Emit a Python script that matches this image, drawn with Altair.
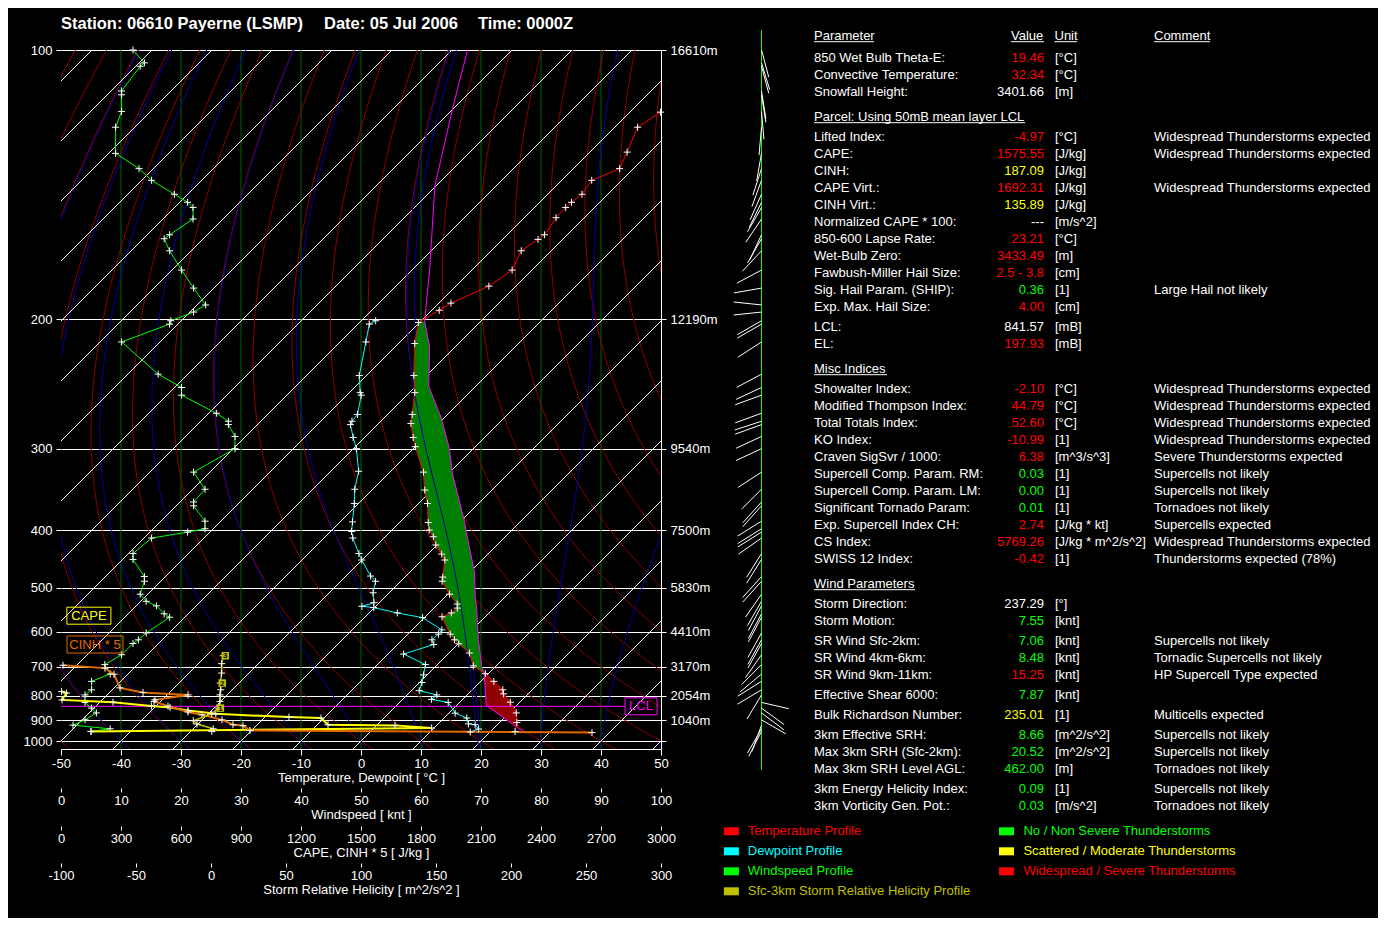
import numpy as np
import pandas as pd
import altair as alt

alt.data_transformers.disable_max_rows()

# ------------------------------------------------------------------
# Sounding values (pressure in hPa, temperature in °C)
# ------------------------------------------------------------------
TEMP_P = [953, 911, 869, 825, 793, 778, 748, 722, 697, 658, 632, 621, 606, 563, 554, 543, 534, 513, 487, 479,
          448, 438, 423, 410, 400, 389, 363, 346, 325, 298, 289, 276, 268, 250, 237, 215, 202, 195, 191, 182,
          174, 165, 160, 158, 151, 147, 145, 142, 137, 133, 127.6, 120, 115.7]
TEMP_T = [24.1, 22.9, 21.2, 18.4, 15.9, 15.1, 12.2, 9.5, 6.2, 3.4, 0.1, -1.3, -2.95, -7.2, -6.3, -6.1, -6.8, -9.7, -13.1, -13.7,
          -16.2, -17.7, -20.2, -22.0, -23.8, -25.2, -28.5, -31.2, -34.4, -40.0, -41.9, -44.6, -45.9, -49.1, -52.1, -57.3, -60.2, -58.75, -58.0, -54.5,
          -53.3, -55.0, -54.1, -53.8, -54.7, -54.8, -54.7, -54.3, -55.0, -52.3, -53.8, -56.2, -54.9]

DEW_P = [955, 941, 921, 917, 891, 870, 826, 814, 797, 781, 752, 726, 693, 661, 634, 621, 606, 595, 565, 554,
         542, 539, 531, 510, 487, 477, 448, 437, 412, 402, 388, 363, 345, 324, 300, 289, 277, 274, 268, 252,
         250, 237, 214, 203, 201]
DEW_T = [16.7, 17.6, 16.3, 15.05, 13.8, 11.05, 8.1, 4.8, 4.95, 1.3, 0.4, -0.6, -2.0, -7.4, -3.95, -5.05, -4.9, -5.05, -10.3, -15.3,
         -20.1, -22.3, -20.9, -22.7, -24.2, -25.9, -30.05, -31.6, -35.2, -36.5, -37.95, -40.7, -43.0, -45.35, -49.5, -51.9, -54.5, -54.8, -55.0, -57.6,
         -58.2, -61.2, -65.7, -68.1, -67.6]

PARCEL_P = [953, 935, 838, 720, 699, 621, 539, 518, 471, 431, 383, 326, 300, 271, 245, 217, 201.5, 172, 139, 115, 107, 100]
PARCEL_T = [25.5, 23.9, 14.95, 9.2, 7.7, 2.7, -3.2, -5.05, -9.1, -13.7, -20.0, -29.45, -34.0, -40.5, -47.85, -54.3, -59.3, -67.7, -80.2, -90.0, -93.8, -97.4]

LFC_P = 720
EL_P = 200
CIN_BASE_P = 935
LCL_P = 841.57
THETA_W_850 = 19.46

WIND_P = [100, 103, 103.8, 110, 111, 115.5, 120, 128, 133, 137, 142, 145, 147, 151.5, 158, 159.7, 165, 174, 183, 192,
          196, 201, 203, 214, 236, 246, 252, 267, 274, 277, 288, 300, 325, 345, 361, 366, 387, 398, 403, 412,
          437, 447, 478, 487, 513, 528, 538, 556, 564, 603, 621, 631, 663, 693, 723, 748, 778, 797, 826, 849,
          869, 899, 923, 940, 952]
WIND_SPD = [12.0, 13.9, 13.2, 10.1, 10.1, 10.1, 9.1, 9.1, 13.0, 15.1, 18.9, 21.1, 22.0, 22.0, 18.1, 17.2, 18.1, 20.1, 22.1, 24.1,
            22.1, 18.3, 18.1, 10.1, 16.2, 20.1, 20.1, 25.9, 27.9, 27.9, 29.0, 29.0, 22.1, 24.0, 22.1, 22.1, 24.0, 24.0, 21.1, 15.1,
            12.0, 12.0, 13.9, 13.9, 13.2, 14.2, 15.9, 17.2, 18.1, 14.2, 12.9, 12.0, 10.1, 7.3, 8.2, 5.1, 5.1, 4.0, 4.0, 5.1,
            5.9, 4.0, 2.0, 8.2, 5.0]
WIND_DIR = [165, 163, 165, 171, 171, 175, 185, 190, 198, 200, 204, 206, 210, 214, 205, 210, 223, 242, 260, 276,
            264, 240, 240, 237, 242, 245, 250, 250, 252, 250, 245, 245, 237, 225, 222, 222, 238, 238, 238, 235,
            212, 212, 222, 222, 215, 210, 208, 208, 208, 209, 209, 209, 215, 225, 230, 238, 239, 211, 103, 126,
            127, 120, 200, 210, 207]

CAPE_P = [953, 936, 924, 921, 891, 887, 873, 859, 846, 840, 825, 816, 790, 784]
CAPE_V = [150, 1853, 1670, 1335, 1300, 1140, 774, 635, 545, 452, 260, 5, 28, 3]

CINH_P = [958, 948, 925, 921, 899, 877, 865, 841, 822, 816, 797, 788, 771, 724, 704, 695]
CINH_V = [531, 189, 182, 172, 161, 141, 127, 107, 93, 94, 127, 82, 59, 53, 44, 2]
CINH_FACTOR = 5

SRH_P = [952, 940, 918, 903, 873, 849, 822, 797, 778, 754, 720, 690, 666]
SRH_V = [0.5, 1.5, -9.3, -11.8, 0.5, 4.9, 6.0, 6.0, 6.5, 6.2, 7.1, 7.1, 8.2]
SRH_KM_LABEL = ["1", "2", "3"]
SRH_KM_P = [849, 754, 666]
SRH_KM_V = [4.9, 6.2, 8.2]

P_LEVELS = [100, 200, 300, 400, 500, 600, 700, 800, 900, 1000]
HEIGHT_LABELS = ["16610m", "12190m", "9540m", "7500m", "5830m", "4410m", "3170m", "2054m", "1040m", ""]

# background grid families
ISOTHERMS = list(range(-160, 60, 10))
DRY_THETA = list(range(-60, 140, 10))
MOIST_THETAW = list(range(-40, 60, 10))
WIND_GRID = list(range(10, 100, 10))

TITLE_PARTS = ["Station: 06610 Payerne (LSMP)", "Date: 05 Jul 2006", "Time: 0000Z"]

TABLE_HEADERS = ["Parameter", "Value", "Unit", "Comment"]
TABLE_NAMES = [
    "850 Wet Bulb Theta-E:", "Convective Temperature:", "Snowfall Height:",
    "Parcel: Using 50mB mean layer LCL",
    "Lifted Index:", "CAPE:", "CINH:", "CAPE Virt.:", "CINH Virt.:", "Normalized CAPE * 100:", "850-600 Lapse Rate:",
    "Wet-Bulb Zero:", "Fawbush-Miller Hail Size:", "Sig. Hail Param. (SHIP):", "Exp. Max. Hail Size:",
    "LCL:", "EL:",
    "Misc Indices",
    "Showalter Index:", "Modified Thompson Index:", "Total Totals Index:", "KO Index:", "Craven SigSvr / 1000:",
    "Supercell Comp. Param. RM:", "Supercell Comp. Param. LM:", "Significant Tornado Param:",
    "Exp. Supercell Index CH:", "CS Index:", "SWISS 12 Index:",
    "Wind Parameters",
    "Storm Direction:", "Storm Motion:", "SR Wind Sfc-2km:", "SR Wind 4km-6km:", "SR Wind 9km-11km:",
    "Effective Shear 6000:", "Bulk Richardson Number:", "3km Effective SRH:", "Max 3km SRH (Sfc-2km):",
    "Max 3km SRH Level AGL:", "3km Energy Helicity Index:", "3km Vorticity Gen. Pot.:"]
TABLE_VALUES = [
    "19.46", "32.34", "3401.66",
    "",
    "-4.97", "1575.55", "187.09", "1692.31", "135.89", "---", "23.21", "3433.49", "2.5 - 3.8", "0.36", "4.00",
    "841.57", "197.93",
    "",
    "-2.10", "44.79", "52.60", "-10.99", "6.38", "0.03", "0.00", "0.01", "2.74", "5769.26", "-0.42",
    "",
    "237.29", "7.55", "7.06", "8.48", "15.25", "7.87", "235.01", "8.66", "20.52", "462.00", "0.09", "0.03"]
TABLE_LEVEL = [
    "r", "r", "w",
    "",
    "r", "r", "y", "r", "y", "w", "r", "r", "r", "g", "r",
    "w", "r",
    "",
    "r", "r", "r", "r", "r", "g", "g", "g", "r", "r", "r",
    "",
    "w", "g", "g", "g", "r", "g", "y", "g", "g", "g", "g", "g"]
TABLE_UNITS = [
    "[°C]", "[°C]", "[m]",
    "",
    "[°C]", "[J/kg]", "[J/kg]", "[J/kg]", "[J/kg]", "[m/s^2]", "[°C]", "[m]", "[cm]", "[1]", "[cm]",
    "[mB]", "[mB]",
    "",
    "[°C]", "[°C]", "[°C]", "[1]", "[m^3/s^3]", "[1]", "[1]", "[1]", "[J/kg * kt]", "[J/kg * m^2/s^2]", "[1]",
    "",
    "[°]", "[knt]", "[knt]", "[knt]", "[knt]", "[knt]", "[1]", "[m^2/s^2]", "[m^2/s^2]", "[m]", "[1]", "[m/s^2]"]
WTE = "Widespread Thunderstorms expected"
TABLE_COMMENTS = [
    "", "", "",
    "",
    WTE, WTE, "", WTE, "", "", "", "", "", "Large Hail not likely", "",
    "", "",
    "",
    WTE, WTE, WTE, WTE, "Severe Thunderstorms expected", "Supercells not likely", "Supercells not likely",
    "Tornadoes not likely", "Supercells expected", WTE, "Thunderstorms expected (78%)",
    "",
    "", "", "Supercells not likely", "Tornadic Supercells not likely", "HP Supercell Type expected", "",
    "Multicells expected", "Supercells not likely", "Supercells not likely", "Tornadoes not likely",
    "Supercells not likely", "Tornadoes not likely"]
SECTION_ROWS = [3, 17, 29]

LEGEND_LEFT = ["Temperature Profile", "Dewpoint Profile", "Windspeed Profile", "Sfc-3km Storm Relative Helicity Profile"]
LEGEND_LEFT_COLORS = ["#FF0000", "#00FFFF", "#00FF00", "#C0C000"]
LEGEND_RIGHT = ["No / Non Severe Thunderstorms", "Scattered / Moderate Thunderstorms", "Widespread / Severe Thunderstorms"]
LEGEND_RIGHT_COLORS = ["#00FF00", "#FFFF00", "#FF0000"]

# ------------------------------------------------------------------
# Layout and style
# ------------------------------------------------------------------
FONT = "Liberation Sans"
W, H = 600, 699
P_TOP, P_BOT, EXPO = 100.0, 1042.0, -0.35
LEVEL_COLORS = {"r": "#FF0000", "y": "#FFFF00", "g": "#00FF00", "w": "#FFFFFF", "": "#FFFFFF"}
C_DRY, C_MOIST, C_GRIDG = "#8C0000", "#0000A0", "#006400"
C_CAPE_FILL, C_CIN_FILL = "#008000", "#900000"
C_CINH = "#E06A00"
C_SRH = "#C0C000"
PLUS = "M-1,0L1,0M0,-1L0,1"
BARB_X = 700.5
BARB_LEN = 28.0

TITLE_X = [0, 263, 417]
TITLE_Y = -26
COL_NAME_X, COL_VALUE_X, COL_UNIT_X, COL_COMMENT_X = 753, 983, 994, 1093
HEADER_X = [753, 950, 993.5, 1093]
HEADER_W = [60, 33, 22.5, 56]
SECTION_W = [211, 73, 101]
HEADER_Y = -14.3
ROW_GAPS = [22, 17, 17, 25, 20] + [17] * 10 + [20, 17, 25, 20] + [17] * 10 + [25, 20, 17, 20, 17, 17, 20, 20, 20, 17, 17, 20, 17]
LEGEND_Y0, LEGEND_DY = 781.3, 20
LEGEND_SQ_X = [670.4, 945.5]
LEGEND_TX_X = [686.8, 962.4]


def _f(p):
    return np.power(np.asarray(p, dtype=float), EXPO)


def ypx(p):
    return H * (_f(P_TOP) - _f(p)) / (_f(P_TOP) - _f(P_BOT))


def p_at(y):
    f = _f(P_TOP) - np.asarray(y, dtype=float) / H * (_f(P_TOP) - _f(P_BOT))
    return np.power(f, 1.0 / EXPO)


Y1000 = float(ypx(1000.0))


def skew(t, p):
    return np.asarray(t, dtype=float) + (Y1000 - ypx(p)) * 100.0 / W


def rect_path(w, h):
    hy = h / w
    return f"M-1,-{hy:.4f}H1V{hy:.4f}H-1Z"


# ------------------------------------------------------------------
# Frames
# ------------------------------------------------------------------
def profile_df(ps, ts):
    d = pd.DataFrame({"p": ps, "t": ts})
    d["xs"] = skew(d["t"], d["p"])
    d["i"] = np.arange(len(d))
    return d


temp_df = profile_df(TEMP_P, TEMP_T)
dew_df = profile_df(DEW_P, DEW_T)
parcel_df = profile_df(PARCEL_P, PARCEL_T)

# CAPE polygon: environment from LFC to EL, then parcel back down
env_c = temp_df[(temp_df.p < LFC_P) & (temp_df.p > EL_P)].sort_values("p", ascending=False)
par_c = parcel_df[(parcel_df.p <= LFC_P) & (parcel_df.p > EL_P)].sort_values("p", ascending=True)
cape_poly = pd.concat([env_c, par_c], ignore_index=True)
cape_poly["i"] = np.arange(len(cape_poly))
env_n = temp_df[(temp_df.p > LFC_P) & (temp_df.p < CIN_BASE_P)].sort_values("p", ascending=False)
par_n = parcel_df[(parcel_df.p >= LFC_P) & (parcel_df.p <= CIN_BASE_P)].sort_values("p", ascending=True)
cin_poly = pd.concat([env_n, par_n], ignore_index=True)
cin_poly["i"] = np.arange(len(cin_poly))

# background families
rows = []
for k, t in enumerate(ISOTHERMS):
    for j, p in enumerate([P_TOP, P_BOT]):
        rows.append({"id": k, "i": j, "p": p, "xs": float(skew(t, p))})
iso_df = pd.DataFrame(rows)

PG = np.arange(100.0, 1046.0, 5.0)
rows = []
for k, th in enumerate(DRY_THETA):
    tt = (th + 273.15) * (PG / 1000.0) ** 0.2857 - 273.15
    for j, (p, t) in enumerate(zip(PG, tt)):
        rows.append({"id": k, "i": j, "p": p, "xs": float(skew(t, p))})
dry_df = pd.DataFrame(rows)


def moist_curve(tw):
    Rd, cp, Lv, eps = 287.04, 1005.7, 2.501e6, 0.622

    def dtdp(p, T):
        tc = T - 273.15
        es = 6.112 * np.exp(17.67 * tc / (tc + 243.5))
        rs = eps * es / (p - es)
        return (Rd * T + Lv * rs) / (cp + Lv * Lv * rs * eps / (Rd * T * T)) / p

    def integ(p_end, step):
        p, T = 1000.0, tw + 273.15
        out = []
        while (step < 0 and p > p_end + 1e-6) or (step > 0 and p < p_end - 1e-6):
            h = step
            k1 = dtdp(p, T)
            k2 = dtdp(p + h / 2, T + h / 2 * k1)
            k3 = dtdp(p + h / 2, T + h / 2 * k2)
            k4 = dtdp(p + h, T + h * k3)
            T = T + h / 6 * (k1 + 2 * k2 + 2 * k3 + k4)
            p = p + h
            out.append((p, T - 273.15))
        return out

    up = integ(100.0, -5.0)
    down = integ(1045.0, 5.0)
    pts = list(reversed(up)) + [(1000.0, tw)] + down
    return pts


rows = []
for k, tw in enumerate(MOIST_THETAW):
    for j, (p, t) in enumerate(moist_curve(tw)):
        rows.append({"id": k, "i": j, "p": p, "xs": float(skew(t, p))})
moist_df = pd.DataFrame(rows)
thw_df = pd.DataFrame([{"i": j, "p": p, "xs": float(skew(t, p))} for j, (p, t) in enumerate(moist_curve(THETA_W_850))])

wind_df = pd.DataFrame({"p": WIND_P, "spd": WIND_SPD, "dir": WIND_DIR})
wind_df["i"] = np.arange(len(wind_df))
rad = np.deg2rad(wind_df["dir"])
wind_df["bx0"] = 0.0
wind_df["bx1"] = BARB_LEN * np.sin(rad)
wind_df["p1"] = p_at(ypx(wind_df["p"]) - BARB_LEN * np.cos(rad))

cape_df = pd.DataFrame({"p": CAPE_P, "v": CAPE_V})
cape_df["i"] = np.arange(len(cape_df))
cinh_df = pd.DataFrame({"p": CINH_P, "cin": CINH_V})
cinh_df["i"] = np.arange(len(cinh_df))
srh_df = pd.DataFrame({"p": SRH_P, "v": SRH_V})
srh_df["i"] = np.arange(len(srh_df))
km_df = pd.DataFrame({"p": SRH_KM_P, "v": SRH_KM_V, "lab": SRH_KM_LABEL})

ty = [HEADER_Y]
for g in ROW_GAPS:
    ty.append(ty[-1] + g)
table_df = pd.DataFrame({"name": TABLE_NAMES, "value": TABLE_VALUES, "unit": TABLE_UNITS,
                         "comment": TABLE_COMMENTS, "lvl": TABLE_LEVEL, "ty": ty[1:]})
table_df["col"] = table_df["lvl"].map(LEVEL_COLORS)
head_df = pd.DataFrame({"txt": TABLE_HEADERS, "hx": HEADER_X, "ty": HEADER_Y})
ul_rows = [{"x0": x, "x1": x + w, "uy": HEADER_Y + 6} for x, w in zip(HEADER_X, HEADER_W)]
for r, w in zip(SECTION_ROWS, SECTION_W):
    ul_rows.append({"x0": COL_NAME_X, "x1": COL_NAME_X + w, "uy": ty[1 + r] + 6})
ul_df = pd.DataFrame(ul_rows)

leg_rows = []
for j, (t, c) in enumerate(zip(LEGEND_LEFT, LEGEND_LEFT_COLORS)):
    leg_rows.append({"txt": t, "col": c, "sx": LEGEND_SQ_X[0], "tx": LEGEND_TX_X[0], "ty": LEGEND_Y0 + j * LEGEND_DY})
for j, (t, c) in enumerate(zip(LEGEND_RIGHT, LEGEND_RIGHT_COLORS)):
    leg_rows.append({"txt": t, "col": c, "sx": LEGEND_SQ_X[1], "tx": LEGEND_TX_X[1], "ty": LEGEND_Y0 + j * LEGEND_DY})
leg_df = pd.DataFrame(leg_rows)
title_df = pd.DataFrame({"txt": TITLE_PARTS, "tx": TITLE_X, "ty": TITLE_Y})

# ------------------------------------------------------------------
# Scales / axes
# ------------------------------------------------------------------
TS = alt.Scale(domain=[-50, 50], nice=False, zero=False)
PS = alt.Scale(type="pow", exponent=EXPO, domain=[P_TOP, P_BOT], reverse=True, nice=False, zero=False)
WS = alt.Scale(domain=[0, 100], nice=False, zero=False)
CS = alt.Scale(domain=[0, 3000], nice=False, zero=False)
HS = alt.Scale(domain=[-100, 300], nice=False, zero=False)
BS = alt.Scale(domain=[-100, 100], range=[BARB_X - 100, BARB_X + 100], nice=False, zero=False)
TBX = alt.Scale(domain=[-100, 1400], range=[-100, 1400], nice=False, zero=False)
TBY = alt.Scale(domain=[-100, 900], range=[-100, 900], nice=False, zero=False)

LBL = "'' + datum.value"


def xaxis(values, title, offset, tick, dom):
    return alt.Axis(orient="bottom", values=values, title=title, offset=offset, tickSize=tick, domain=dom,
                    labelPadding=2, titlePadding=1, labelFlush=False, labelOverlap=False, grid=False,
                    labelExpr=LBL)


AX_T = xaxis(list(range(-50, 51, 10)), "Temperature, Dewpoint [ °C ]", 0, 6, True)
AX_W = xaxis(list(range(0, 101, 10)), "Windspeed [ knt ]", 39, 4, False)
AX_C = xaxis(list(range(0, 3001, 300)), "CAPE, CINH * 5 [ J/kg ]", 77, 4, False)
AX_H = xaxis(list(range(-100, 301, 50)), "Storm Relative Helicity [ m^2/s^2 ]", 114, 4, False)
AX_PL = alt.Axis(orient="left", values=P_LEVELS, title=None, domain=False, tickSize=5, labelPadding=4,
                 grid=True, gridColor="white", gridOpacity=1, gridWidth=1, labelExpr=LBL, labelOverlap=False)
h_expr = " : ".join(f"datum.value == {p} ? '{h}'" for p, h in zip(P_LEVELS, HEIGHT_LABELS)) + " : ''"
AX_PR = alt.Axis(orient="right", values=P_LEVELS, title=None, domain=True, tickSize=5, labelPadding=4,
                 grid=False, labelExpr=h_expr, labelOverlap=False)


def X(field="xs", axis=None, scale=TS):
    return alt.X(f"{field}:Q", scale=scale, axis=axis)


def Y(field="p", axis=None):
    return alt.Y(f"{field}:Q", scale=PS, axis=axis)


def plus_layer(df, xfield, scale):
    return alt.Chart(df).mark_point(shape=PLUS, size=49, filled=False, color="white", strokeWidth=1,
                                    opacity=1).encode(x=X(xfield, None, scale), y=Y())


L = []
# background grid
L.append(alt.Chart(pd.DataFrame({"ws": WIND_GRID})).mark_rule(color=C_GRIDG, strokeWidth=1).encode(
    x=X("ws", AX_W, WS), y=alt.value(0), y2=alt.value(H)))
L.append(alt.Chart(dry_df).mark_line(color=C_DRY, strokeWidth=1, clip=True).encode(
    x=X(), y=Y("p", AX_PR), detail="id:N", order="i:Q"))
L.append(alt.Chart(moist_df).mark_line(color=C_MOIST, strokeWidth=1, clip=True).encode(
    x=X(), y=Y(), detail="id:N", order="i:Q"))
L.append(alt.Chart(iso_df).mark_line(color="white", strokeWidth=1, clip=True).encode(
    x=X("xs", AX_T), y=Y("p", AX_PL), detail="id:N", order="i:Q"))
# CAPE / CIN shading
L.append(alt.Chart(cape_poly).mark_line(fill=C_CAPE_FILL, stroke=C_CAPE_FILL, strokeWidth=0.5, clip=True).encode(
    x=X(), y=Y(), order="i:Q"))
L.append(alt.Chart(cin_poly).mark_line(fill=C_CIN_FILL, stroke=C_CIN_FILL, strokeWidth=0.5, clip=True).encode(
    x=X(), y=Y(), order="i:Q"))
L.append(alt.Chart(thw_df).mark_line(color=C_MOIST, strokeWidth=1, clip=True).encode(x=X(), y=Y(), order="i:Q"))
# LCL
L.append(alt.Chart(pd.DataFrame({"p": [LCL_P]})).mark_rule(color="#FF00FF", strokeWidth=1).encode(
    x=alt.value(0), x2=alt.value(564), y=Y()))
L.append(alt.Chart(pd.DataFrame({"p": [LCL_P], "xs": [46.67]})).mark_point(
    shape=rect_path(32, 17), size=32 ** 2, filled=False, color="#FF00FF", strokeWidth=1, opacity=1).encode(x=X(), y=Y()))
L.append(alt.Chart(pd.DataFrame({"p": [LCL_P], "xs": [46.67], "t": ["LCL"]})).mark_text(
    color="#FF00FF", fontSize=13, font=FONT).encode(x=X(), y=Y(), text="t:N"))
# windspeed profile
wlin = wind_df.copy()
L.append(alt.Chart(wlin).mark_line(color="#00FF00", strokeWidth=1).encode(x=X("spd", None, WS), y=Y(), order="i:Q"))
L.append(plus_layer(wlin, "spd", WS))
# CAPE / CINH*5 profiles
L.append(alt.Chart(cape_df).mark_line(color="#FFFF00", strokeWidth=2).encode(x=X("v", AX_C, CS), y=Y(), order="i:Q"))
L.append(plus_layer(cape_df, "v", CS))
L.append(alt.Chart(cinh_df).transform_calculate(v=f"datum.cin * {CINH_FACTOR}").mark_line(
    color=C_CINH, strokeWidth=2).encode(x=X("v", None, CS), y=Y(), order="i:Q"))
L.append(alt.Chart(cinh_df).transform_calculate(v=f"datum.cin * {CINH_FACTOR}").mark_point(
    shape=PLUS, size=49, filled=False, color="white", strokeWidth=1, opacity=1).encode(x=X("v", None, CS), y=Y()))
# SRH profile
L.append(alt.Chart(srh_df).mark_line(color=C_SRH, strokeWidth=1.5).encode(x=X("v", AX_H, HS), y=Y(), order="i:Q"))
L.append(plus_layer(srh_df, "v", HS))
L.append(alt.Chart(km_df).mark_point(shape="square", size=56, filled=True, color=C_SRH, opacity=1, xOffset=2).encode(
    x=X("v", None, HS), y=Y()))
L.append(alt.Chart(km_df).mark_text(color="black", fontSize=8, fontWeight="bold", font=FONT, dx=2, dy=0.5).encode(
    x=X("v", None, HS), y=Y(), text="lab:N"))
# CAPE / CINH tags
L.append(alt.Chart(pd.DataFrame({"t": ["CAPE"]})).mark_point(shape=rect_path(44, 17), size=44 ** 2, filled=False,
                                                          color="#FFFF00", strokeWidth=1, opacity=1).encode(
    x=alt.value(27.9), y=alt.value(565.7)))
L.append(alt.Chart(pd.DataFrame({"t": ["CAPE"]})).mark_text(color="#FFFF00", fontSize=13, font=FONT).encode(
    x=alt.value(27.9), y=alt.value(566.2), text="t:N"))
L.append(alt.Chart(pd.DataFrame({"t": ["CINH * 5"]})).mark_point(shape=rect_path(56, 17), size=56 ** 2, filled=False,
                                                              color=C_CINH, strokeWidth=1, opacity=1).encode(
    x=alt.value(34), y=alt.value(594.5)))
L.append(alt.Chart(pd.DataFrame({"t": ["CINH * 5"]})).mark_text(color=C_CINH, fontSize=13, font=FONT).encode(
    x=alt.value(34), y=alt.value(595), text="t:N"))
# sounding profiles
L.append(alt.Chart(parcel_df).mark_line(color="#FF00FF", strokeWidth=1, clip=True).encode(x=X(), y=Y(), order="i:Q"))
L.append(alt.Chart(dew_df).mark_line(color="#00FFFF", strokeWidth=1, clip=True).encode(x=X(), y=Y(), order="i:Q"))
L.append(plus_layer(dew_df, "xs", TS))
L.append(alt.Chart(temp_df).mark_line(color="#FF0000", strokeWidth=1, clip=True).encode(x=X(), y=Y(), order="i:Q"))
L.append(plus_layer(temp_df, "xs", TS))
# wind barbs column
L.append(alt.Chart(pd.DataFrame({"a": [0]})).mark_rule(color="#00FF00", strokeWidth=1).encode(
    x=alt.value(BARB_X), y=alt.value(-20), y2=alt.value(720)))
L.append(alt.Chart(wind_df).mark_rule(color="white", strokeWidth=1).encode(
    x=alt.X("bx0:Q", scale=BS, axis=None), x2="bx1:Q", y=Y(), y2="p1:Q"))
# title
L.append(alt.Chart(title_df).mark_text(color="white", fontSize=16.5, fontWeight="bold", font=FONT, align="left").encode(
    x=alt.X("tx:Q", scale=TBX, axis=None), y=alt.Y("ty:Q", scale=TBY, axis=None), text="txt:N"))
# parameter table
TX = lambda: alt.Y("ty:Q", scale=TBY, axis=None)
L.append(alt.Chart(head_df).mark_text(color="white", fontSize=13, font=FONT, align="left").encode(
    x=alt.X("hx:Q", scale=TBX, axis=None), y=TX(), text="txt:N"))
L.append(alt.Chart(ul_df).mark_rule(color="white", strokeWidth=1).encode(
    x=alt.X("x0:Q", scale=TBX, axis=None), x2="x1:Q", y=alt.Y("uy:Q", scale=TBY, axis=None)))
L.append(alt.Chart(table_df).mark_text(color="white", fontSize=13, font=FONT, align="left").encode(
    x=alt.value(COL_NAME_X), y=TX(), text="name:N"))
L.append(alt.Chart(table_df).mark_text(fontSize=13, font=FONT, align="right").encode(
    x=alt.value(COL_VALUE_X), y=TX(), text="value:N", color=alt.Color("col:N", scale=None)))
L.append(alt.Chart(table_df).mark_text(color="white", fontSize=13, font=FONT, align="left").encode(
    x=alt.value(COL_UNIT_X), y=TX(), text="unit:N"))
L.append(alt.Chart(table_df).mark_text(color="white", fontSize=13, font=FONT, align="left").encode(
    x=alt.value(COL_COMMENT_X), y=TX(), text="comment:N"))
# legend
L.append(alt.Chart(leg_df).mark_point(shape=rect_path(15, 8), size=225, filled=True, opacity=1).encode(
    x=alt.X("sx:Q", scale=TBX, axis=None), y=TX(), color=alt.Color("col:N", scale=None)))
L.append(alt.Chart(leg_df).mark_text(fontSize=13, font=FONT, align="left").encode(
    x=alt.X("tx:Q", scale=TBX, axis=None), y=TX(), text="txt:N", color=alt.Color("col:N", scale=None)))

chart = alt.layer(*L).resolve_scale(x="independent", y="independent").properties(
    width=W, height=H,
    autosize=alt.AutoSizeParams(type="none"),
    padding={"left": 53, "top": 42, "right": 717, "bottom": 169},
    background="black",
).configure_view(stroke=None).configure_axis(
    labelColor="white", titleColor="white", tickColor="white", domainColor="white",
    labelFont=FONT, titleFont=FONT, labelFontSize=13, titleFontSize=13, titleFontWeight="normal",
    tickWidth=1, domainWidth=1,
).configure_text(font=FONT)

chart.save("out.html", embed_options={"renderer": "svg", "actions": False})
